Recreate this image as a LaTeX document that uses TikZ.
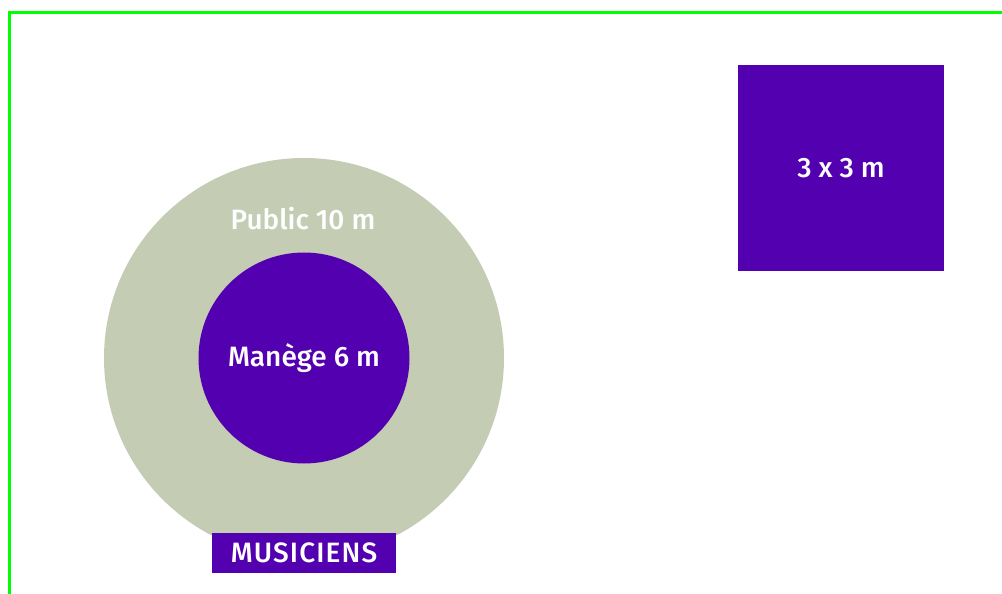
\documentclass[tikz,border=0pt]{standalone}
\usepackage{fontspec}
\setmainfont{Fira Sans}[UprightFont=* Medium]
\usepackage{xcolor}
\definecolor{violet}{RGB}{82,0,176}
\definecolor{sauge}{RGB}{196,204,180}
\definecolor{vert}{RGB}{0,255,0}

\begin{document}
\begin{tikzpicture}[x=1pt,y=-1pt,
  label/.style={text=white,font=\fontsize{28}{31}\selectfont},
  zone/.style={fill=violet,draw=none,inner sep=0pt}]
\useasboundingbox (0,0) rectangle (1002,594);
\draw [vert,line width=3pt] (9,594) -- (9,13) -- (1002,13);

\node [zone,fill=sauge,circle,minimum size=400pt] (public) at (304,358) {};
\node [zone,circle,minimum size=211pt] (manege) at (304,358) {};
\node [label] (tpublic) at (303,219) {Public 10 m};
\node [label] (tmanege) at (manege.center) {Manège 6 m};

\node [zone,minimum width=206pt,minimum height=206pt] (stand) at (841,168) {};
\node [label] (tstand) at (stand.center) {3 x 3 m};

\node [zone,minimum width=184pt,minimum height=40pt,label] (musiciens) at (304,553) {\addfontfeature{LetterSpace=4}MUSICIENS};
\end{tikzpicture}
\end{document}
